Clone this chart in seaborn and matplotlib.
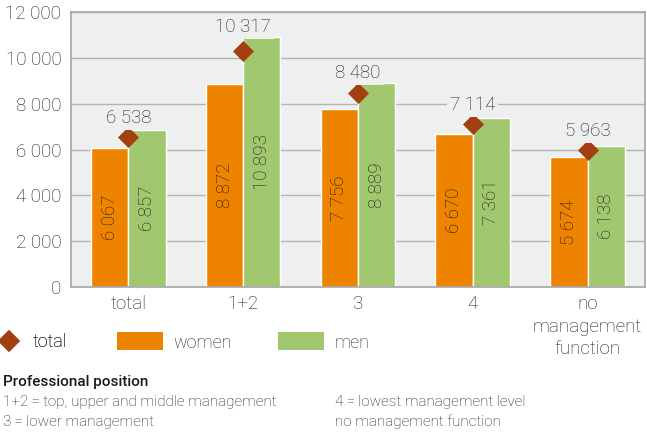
import seaborn as sns
import matplotlib.pyplot as plt
import pandas as pd
from matplotlib.lines import Line2D
from matplotlib.patches import Patch
from matplotlib.ticker import FuncFormatter

OUT_PATH = 'out.png'

# Data
positions = ['total', '1+2', '3', '4', 'no\nmanagement\nfunction']
women = [6067, 8872, 7756, 6670, 5674]
men = [6857, 10893, 8889, 7361, 6138]
total = [6538, 10317, 8480, 7114, 5963]
y_ticks = [0, 2000, 4000, 6000, 8000, 10000, 12000]

note_title = 'Professional position'
note_left = ['1+2\u2009=\u2009top, upper and middle management', '3\u2009=\u2009lower management']
note_right = ['4\u2009=\u2009lowest management level', 'no management function']


def fmt(v):
    return f'{int(v):,}'.replace(',', ' ')


def plot_salaries():

    # Colors
    text_color = '#1c1c1c'
    women_color = '#ee8300'
    men_color = '#a1c86e'
    total_color = '#a33f10'
    panel_color = '#eef0f0'
    grid_color = '#b4b4b4'
    spine_color = '#a6a6a6'
    fonts = ['Roboto', 'DejaVu Sans']
    fs = 13.5

    sns.set_style('white')
    plt.rcParams['font.family'] = fonts
    plt.rcParams['font.weight'] = 'light'

    fig = plt.figure(figsize=(6.47, 4.32), dpi=100)
    ax = fig.add_axes([0.1097, 0.3356, 0.8872, 0.6366])
    ax.set_facecolor(panel_color)

    df = pd.DataFrame({
        'position': positions * 2,
        'value': women + men,
        'sex': ['women'] * len(positions) + ['men'] * len(positions),
    })

    sns.barplot(data=df, x='position', y='value', hue='sex',
                palette={'women': women_color, 'men': men_color},
                width=0.65, gap=0, saturation=1, legend=False, ax=ax, zorder=2)

    # Rotated labels inside bars
    for container in ax.containers:
        ax.bar_label(container, labels=[fmt(b.get_height()) for b in container],
                     label_type='center', rotation=90, fontsize=fs,
                     color=text_color, fontweight='light')

    # Total diamonds
    sns.scatterplot(x=positions, y=total, marker='D', s=115, color=total_color,
                    edgecolor=total_color, linewidth=0, ax=ax, zorder=4)

    # Total labels: above diamond, kept clear of the men bar
    per_px = 12000 / 275
    for i, v in enumerate(total):
        y_lab = max(v + 19 * per_px, men[i] + 10 * per_px)
        ax.text(i, y_lab, fmt(v), ha='center', va='center', fontsize=fs,
                color=text_color, fontweight='light', zorder=5,
                bbox=dict(boxstyle='square,pad=0.15', fc=panel_color, ec='none'))

    # Axes styling
    ax.set_ylim(0, 12000)
    ax.set_xlim(-0.5, len(positions) - 0.5)
    ax.set_yticks(y_ticks)
    ax.yaxis.set_major_formatter(FuncFormatter(lambda v, _: fmt(v)))
    ax.yaxis.grid(True, color=grid_color, linewidth=1, zorder=0)
    ax.set_axisbelow(True)
    ax.set_xlabel('')
    ax.set_ylabel('')
    for spine in ax.spines.values():
        spine.set_visible(True)
        spine.set_color(spine_color)
        spine.set_linewidth(1.2)
    ax.tick_params(axis='y', length=4, width=1, color=spine_color, pad=3,
                   labelsize=fs, labelcolor=text_color)
    ax.tick_params(axis='x', length=0, pad=6, labelsize=fs, labelcolor=text_color)
    for lab in ax.get_xticklabels():
        lab.set_linespacing(1.3)
        lab.set_fontweight('light')
    for lab in ax.get_yticklabels():
        lab.set_fontweight('light')

    # Legend: diamond on its own, then the two bar patches
    leg_prop = {'family': fonts, 'weight': 'light', 'size': 13}
    leg_y = 1 - 342 / 432
    leg1 = fig.legend(
        [Line2D([], [], marker='D', linestyle='none', markersize=11,
                color=total_color, markeredgewidth=0)],
        ['total'], loc='center left', bbox_to_anchor=(1 / 647, leg_y),
        frameon=False, borderpad=0, borderaxespad=0, handlelength=0.9,
        handletextpad=0.85, prop=leg_prop)
    fig.legend(
        [Patch(facecolor=women_color, edgecolor='none'),
         Patch(facecolor=men_color, edgecolor='none')],
        ['women', 'men'], loc='center left', bbox_to_anchor=(117 / 647, leg_y),
        ncol=2, frameon=False, borderpad=0, borderaxespad=0,
        handlelength=2.55, handleheight=1.15, handletextpad=0.55,
        columnspacing=2.6, prop=leg_prop)
    fig.add_artist(leg1)

    # Footnote
    fig.text(3 / 647, 1 - 382 / 432, note_title, fontsize=11, fontweight='medium',
             color='#1a1a1a', va='center')
    for k, line in enumerate(note_left):
        fig.text(3 / 647, 1 - (402 + 20 * k) / 432, line, fontsize=11,
                 color=text_color, va='center', fontweight='light')
    for k, line in enumerate(note_right):
        fig.text(335 / 647, 1 - (402 + 20 * k) / 432, line, fontsize=11,
                 color=text_color, va='center', fontweight='light')

    fig.savefig(OUT_PATH, dpi=100, facecolor='white')


plot_salaries()
